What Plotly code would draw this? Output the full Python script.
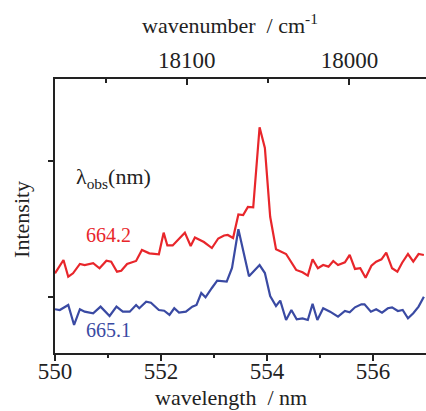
import plotly.graph_objects as go

# wavelength (nm) and intensity (arb. units)
red_nm = [550.00, 550.16, 550.25, 550.34, 550.47, 550.56, 550.72, 550.84, 550.97, 551.06,
          551.17, 551.25, 551.36, 551.53, 551.64, 551.78, 551.96, 552.05, 552.12, 552.22,
          552.45, 552.56, 552.64, 552.81, 552.96, 553.08, 553.19, 553.26, 553.36, 553.46,
          553.55, 553.64, 553.74, 553.86, 553.96, 554.06, 554.17, 554.27, 554.36, 554.55,
          554.67, 554.77, 554.86, 554.96, 555.06, 555.16, 555.25, 555.34, 555.47, 555.56,
          555.66, 555.76, 555.86, 555.97, 556.06, 556.16, 556.25, 556.36, 556.46, 556.55,
          556.66, 556.76, 556.86, 556.96]
red_int = [0.174, 0.272, 0.149, 0.174, 0.243, 0.235, 0.248, 0.211, 0.267, 0.260,
           0.186, 0.193, 0.243, 0.265, 0.346, 0.321, 0.314, 0.473, 0.379, 0.379,
           0.473, 0.375, 0.438, 0.404, 0.360, 0.430, 0.452, 0.456, 0.434, 0.607,
           0.603, 0.662, 0.660, 1.248, 1.096, 0.590, 0.351, 0.333, 0.316, 0.199,
           0.182, 0.157, 0.277, 0.211, 0.235, 0.223, 0.265, 0.235, 0.255, 0.309,
           0.206, 0.211, 0.142, 0.230, 0.260, 0.277, 0.326, 0.211, 0.186, 0.252,
           0.316, 0.260, 0.316, 0.309]

blue_nm = [550.00, 550.09, 550.25, 550.36, 550.47, 550.56, 550.72, 550.86, 551.03, 551.16,
           551.28, 551.41, 551.53, 551.59, 551.72, 551.81, 551.96, 552.06, 552.16, 552.25,
           552.34, 552.47, 552.59, 552.67, 552.76, 552.84, 552.96, 553.06, 553.24, 553.34,
           553.46, 553.66, 553.86, 553.96, 554.06, 554.17, 554.25, 554.36, 554.46, 554.56,
           554.67, 554.77, 554.86, 554.95, 555.06, 555.19, 555.34, 555.47, 555.56, 555.66,
           555.78, 555.84, 555.96, 556.06, 556.17, 556.28, 556.36, 556.47, 556.56, 556.66,
           556.76, 556.86, 556.96]
blue_int = [-0.090, -0.096, -0.059, -0.206, -0.090, -0.108, -0.120, -0.071, -0.140, -0.071,
            -0.108, -0.108, -0.059, -0.083, -0.035, -0.042, -0.096, -0.101, -0.132, -0.083,
            -0.115, -0.108, -0.071, -0.059, 0.029, -0.002, 0.066, 0.120, 0.113, 0.213,
            0.498, 0.152, 0.235, 0.176, 0.007, -0.066, -0.027, -0.169, -0.096, -0.164,
            -0.157, -0.169, -0.051, -0.169, -0.083, -0.108, -0.145, -0.103, -0.113, -0.076,
            -0.054, -0.054, -0.108, -0.090, -0.115, -0.083, -0.076, -0.103, -0.096, -0.157,
            -0.120, -0.071, 0.002]

x_range = [550, 557]
y_range = [-0.412, 1.603]
wl_ticks = [550, 552, 554, 556]
wl_minor = [551, 553, 555]
wn_major = [18100, 18000]
wn_minor = [18150, 18050]
y_ticks = [0, 1]

RED = "#E8262B"
BLUE = "#3A4AA3"
INK = "#222222"
FONT = "Liberation Serif"

fig = go.Figure()
fig.add_trace(go.Scatter(x=red_nm, y=red_int, mode="lines",
                         line=dict(color=RED, width=2.2), showlegend=False))
fig.add_trace(go.Scatter(x=blue_nm, y=blue_int, mode="lines",
                         line=dict(color=BLUE, width=2.2), showlegend=False))
# invisible trace to create the top (wavenumber) axis
fig.add_trace(go.Scatter(x=red_nm, y=red_int, mode="lines", xaxis="x2",
                         line=dict(width=0), opacity=0, hoverinfo="skip", showlegend=False))

fig.update_layout(
    template="none",
    width=426, height=411,
    margin=dict(l=55, r=0, t=79, b=58, autoexpand=False),
    paper_bgcolor="white", plot_bgcolor="white",
    font=dict(family=FONT, color=INK),
    xaxis=dict(range=x_range, showgrid=False, zeroline=False, automargin=False,
               showline=True, linecolor=INK, linewidth=1.5,
               tickmode="array", tickvals=wl_ticks, ticktext=[str(v) for v in wl_ticks],
               ticks="outside", ticklen=6, tickwidth=1.5, tickcolor=INK,
               ticklabelstandoff=-9,
               tickfont=dict(size=23, family=FONT, color=INK),
               minor=dict(tickmode="array", tickvals=wl_minor, ticks="outside",
                          ticklen=3, tickwidth=1.5, tickcolor=INK)),
    xaxis2=dict(range=x_range, overlaying="x", side="top", anchor="y",
                showgrid=False, zeroline=False, automargin=False,
                showline=True, linecolor=INK, linewidth=1.5,
                tickmode="array", tickvals=[1e7 / w for w in wn_major],
                ticktext=[str(w) for w in wn_major],
                ticks="inside", ticklen=6, tickwidth=1.5, tickcolor=INK,
                tickfont=dict(size=23, family=FONT, color=INK),
                minor=dict(tickmode="array", tickvals=[1e7 / w for w in wn_minor],
                           ticks="inside", ticklen=4, tickwidth=1.5, tickcolor=INK)),
    yaxis=dict(range=y_range, showgrid=False, zeroline=False, automargin=False,
               showline=True, linecolor=INK, linewidth=1.5,
               tickmode="array", tickvals=y_ticks, showticklabels=False,
               ticks="outside", ticklen=5, tickwidth=1.5, tickcolor=INK),
)

def ann(text, x, y, size, color=INK, xanchor="center", angle=0):
    fig.add_annotation(text=text, x=x, y=y, xref="paper", yref="paper",
                       showarrow=False, xanchor=xanchor, yanchor="middle",
                       textangle=angle, font=dict(family=FONT, size=size, color=color))

ann("wavenumber  / cm<sup>-1</sup>", 0.472, 1.20, 22)
ann("wavelength  / nm", 0.474, -0.164, 22)
ann("Intensity", -0.092, 0.489, 22, angle=-90)
ann("λ<sub>obs</sub>(nm)", 0.052, 0.64, 22, xanchor="left")
ann("664.2", 0.078, 0.431, 20, color=RED, xanchor="left")
ann("665.1", 0.078, 0.084, 20, color=BLUE, xanchor="left")

fig.write_html("out.html", config={"displayModeBar": False},
               post_script="document.body.style.margin='0';document.body.style.overflow='hidden';")
